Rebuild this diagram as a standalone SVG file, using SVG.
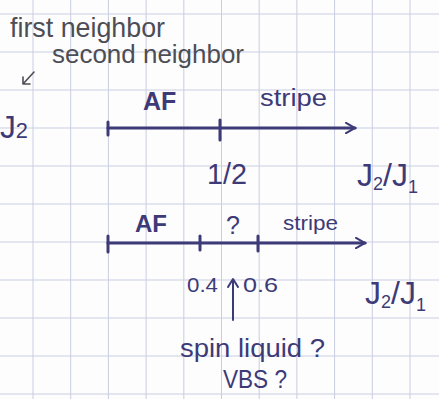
<svg xmlns="http://www.w3.org/2000/svg" width="439" height="399" viewBox="0 0 439 399">
<style>
.grid{stroke:#c9cde2;stroke-width:1}
.ink{fill:#3d3a78;font-family:"Liberation Sans",Arial,sans-serif}
.pen{fill:#4d4d55;font-family:"Liberation Sans",Arial,sans-serif}
.axis{stroke:#3d3a78;stroke-width:3.2;fill:none;stroke-linecap:round}
.tick{stroke:#3d3a78;stroke-width:3;fill:none;stroke-linecap:round}
.thin{stroke:#3d3a78;stroke-width:2;fill:none;stroke-linecap:round;stroke-linejoin:round}
</style>
<defs>
<marker id="chev" viewBox="0 0 10 10" refX="8" refY="5" markerWidth="4" markerHeight="4" orient="auto" markerUnits="strokeWidth">
<path d="M1 1 L8 5 L1 9" fill="none" stroke="#3d3a78" stroke-width="1.6" stroke-linecap="round"/>
</marker>
</defs>
<rect width="439" height="399" fill="#fdfdfd"/>
<g id="grid">
<path class="grid" d="M33 0V399M70.7 0V399M108.4 0V399M146.1 0V399M183.8 0V399M221.5 0V399M259.2 0V399M296.9 0V399M334.6 0V399M372.3 0V399M410 0V399M0 14H439M0 52H439M0 90H439M0 128H439M0 166H439M0 204H439M0 242H439M0 280H439M0 318H439M0 356H439M0 394H439"/>
</g>
<g id="connectors">
<path class="axis" d="M108 128H355" marker-end="url(#chev)"/>
<path class="tick" d="M108 122V135M220 120V140"/>
<path class="axis" d="M108 243H365" marker-end="url(#chev)"/>
<path class="tick" d="M108 236V252M200 236V250M258 236V251"/>
<path class="thin" d="M233 320V280M228 287L233 279L238 287"/>
<path d="M34 72L23 84M23 77L23 84L30 84" fill="none" stroke="#4d4d55" stroke-width="1.6" stroke-linecap="round" stroke-linejoin="round"/>
</g>
<g id="label-first-neighbor"><text class="pen" x="10" y="37" font-size="28" textLength="155" lengthAdjust="spacingAndGlyphs">first neighbor</text></g>
<g id="label-second-neighbor"><text class="pen" x="52" y="63" font-size="25" textLength="192" lengthAdjust="spacingAndGlyphs">second neighbor</text></g>
<g id="label-J2"><text class="ink" x="0" y="138" font-size="32" textLength="28" lengthAdjust="spacingAndGlyphs">J<tspan font-size="22">2</tspan></text></g>
<g id="label-AF-1"><text class="ink" x="143" y="110" font-size="25" font-weight="bold">AF</text></g>
<g id="label-stripe-1"><text class="ink" x="260" y="106" font-size="23" textLength="67" lengthAdjust="spacingAndGlyphs">stripe</text></g>
<g id="label-half"><text class="ink" x="207" y="184" font-size="30" textLength="40" lengthAdjust="spacingAndGlyphs">1/2</text></g>
<g id="label-ratio-1"><text class="ink" x="357" y="186" font-size="32">J<tspan font-size="18" dy="4">2</tspan><tspan dy="-4">/J</tspan><tspan font-size="18" dy="7">1</tspan></text></g>
<g id="label-AF-2"><text class="ink" x="135" y="232" font-size="24" font-weight="bold">AF</text></g>
<g id="label-question"><text class="ink" x="226" y="234" font-size="25">?</text></g>
<g id="label-stripe-2"><text class="ink" x="283" y="230" font-size="21" textLength="55" lengthAdjust="spacingAndGlyphs">stripe</text></g>
<g id="label-04"><text class="ink" x="187" y="292" font-size="20" textLength="31" lengthAdjust="spacingAndGlyphs">0.4</text></g>
<g id="label-06"><text class="ink" x="243" y="292" font-size="20" textLength="35" lengthAdjust="spacingAndGlyphs">0.6</text></g>
<g id="label-ratio-2"><text class="ink" x="365" y="304" font-size="32">J<tspan font-size="18" dy="4">2</tspan><tspan dy="-4">/J</tspan><tspan font-size="18" dy="7">1</tspan></text></g>
<g id="label-spin-liquid"><text class="ink" x="180" y="357" font-size="25" textLength="145" lengthAdjust="spacingAndGlyphs">spin liquid ?</text></g>
<g id="label-VBS"><text class="ink" x="223" y="388" font-size="25" textLength="64" lengthAdjust="spacingAndGlyphs">VBS ?</text></g>
</svg>
